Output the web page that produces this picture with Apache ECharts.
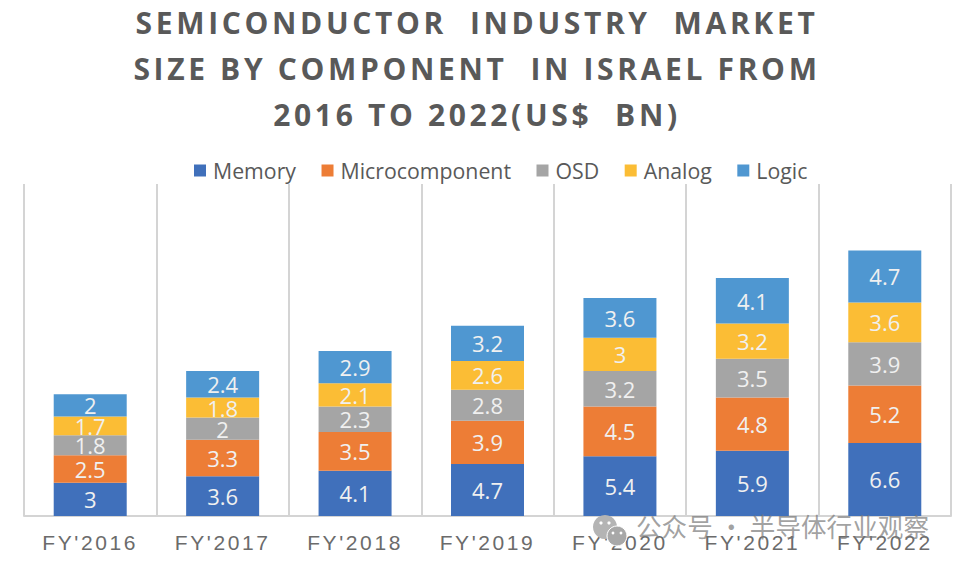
<!DOCTYPE html>
<html>
<head>
<meta charset="utf-8">
<style>
html,body{margin:0;padding:0;background:#fff}
#chart{width:960px;height:570px}
/* echarts has no letter spacing option, set it on the svg text */
#chart text[style*="bold"]{letter-spacing:3.65px}
#chart text[style*="Liberation"]{letter-spacing:2.6px}
</style>
<script src="https://cdn.jsdelivr.net/npm/echarts@6/dist/echarts.min.js"></script>
</head>
<body>
<div id="chart"></div>
<script>
var categories = ["FY'2016","FY'2017","FY'2018","FY'2019","FY'2020","FY'2021","FY'2022"];
var memory = [3,3.6,4.1,4.7,5.4,5.9,6.6];
var microcomponent = [2.5,3.3,3.5,3.9,4.5,4.8,5.2];
var osd = [1.8,2,2.3,2.8,3.2,3.5,3.9];
var analog = [1.7,1.8,2.1,2.6,3,3.2,3.6];
var logic = [2,2.4,2.9,3.2,3.6,4.1,4.7];
var titleText = "SEMICONDUCTOR  INDUSTRY  MARKET\nSIZE BY COMPONENT  IN ISRAEL FROM\n2016 TO 2022(US$  BN)";

function barSeries(name,data,color){
    return {
        name:name,
        type:'bar',
        stack:'total',
        barWidth:73,
        data:data,
        itemStyle:{color:color},
        label:{
            show:true,
            position:'inside',
            color:'#f0f0f0',
            fontSize:22,
            fontFamily:'Open Sans'
        }
    };
}

var myChart = echarts.init(document.getElementById('chart'),null,{renderer:'svg'});
var option = {
    backgroundColor:'#fff',
    animation:false,
    title:{
        text:titleText,
        left:472,
        top:-6,
        textAlign:'center',
        textStyle:{
            color:'#595959',
            fontSize:30,
            fontWeight:'bold',
            fontFamily:'Open Sans',
            lineHeight:46
        }
    },
    legend:{
        left:189,
        top:155,
        itemWidth:12,
        itemHeight:12,
        itemGap:25.5,
        icon:'rect',
        textStyle:{color:'#595959',fontSize:21.3,fontFamily:'Open Sans',padding:[0,0,0,2]},
        data:['Memory','Microcomponent','OSD','Analog','Logic']
    },
    grid:{left:24,right:9,top:184,bottom:54},
    xAxis:{
        type:'category',
        data:categories,
        axisTick:{show:false},
        axisLine:{lineStyle:{color:'#d4d4d4',width:2}},
        splitLine:{show:true,lineStyle:{color:'#d4d4d4',width:2}},
        axisLabel:{color:'#6b6b6b',fontSize:21,fontFamily:'Liberation Sans',margin:16}
    },
    yAxis:{
        type:'value',
        min:0,
        max:30,
        show:false
    },
    series:[
        barSeries('Memory',memory,'#4070bb'),
        barSeries('Microcomponent',microcomponent,'#ed7d36'),
        barSeries('OSD',osd,'#a5a5a5'),
        barSeries('Analog',analog,'#fbbd35'),
        barSeries('Logic',logic,'#4f97d1')
    ],
    // 水印
    graphic:[
        {type:'circle',shape:{cx:605,cy:527,r:12},style:{fill:'#b4b4b4'},z:10},
        {type:'circle',shape:{cx:617,cy:536,r:10},style:{fill:'#a8a8a8',stroke:'#fff',lineWidth:1},z:11},
        {type:'circle',shape:{cx:601,cy:523,r:1.6},style:{fill:'#fff'},z:12},
        {type:'circle',shape:{cx:609,cy:523,r:1.6},style:{fill:'#fff'},z:12},
        {type:'circle',shape:{cx:613,cy:533,r:1.4},style:{fill:'#fff'},z:12},
        {type:'circle',shape:{cx:621,cy:533,r:1.4},style:{fill:'#fff'},z:12},
        {type:'text',left:636,top:513,z:12,style:{
            text:'公众号 · 半导体行业观察',
            fill:'rgba(120,120,120,0.7)',
            fontSize:25.6,
            fontFamily:'Noto Sans CJK SC'
        }}
    ]
};
myChart.setOption(option);
</script>
</body>
</html>
